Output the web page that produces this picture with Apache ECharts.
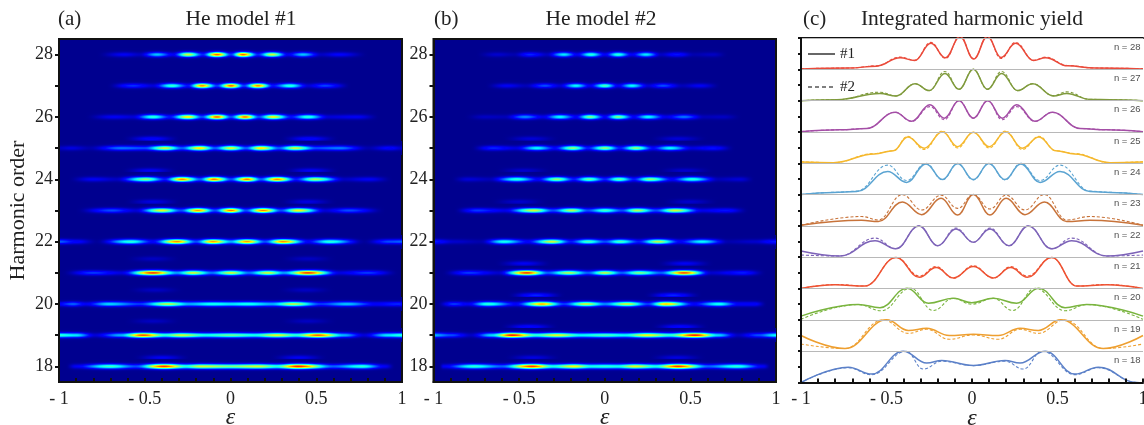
<!DOCTYPE html>
<html><head><meta charset="utf-8">
<style>html,body{margin:0;padding:0;background:#fff}#c{width:1144px;height:425px}</style>
<script src="https://cdn.jsdelivr.net/npm/echarts@6/dist/echarts.min.js"></script>
</head><body><div id="c"></div>
<script>
// ---------- panel (a): intensity profile along each harmonic, [epsilon, intensity]
const a28=[[-.78,0],[-.62,.1],[-.53,.05],[-.43,.32],[-.335,.1],[-.247,.58],[-.16,.16],[-.078,.78],[0,.18],[.075,.78],[.16,.16],[.24,.58],[.335,.1],[.425,.32],[.53,.05],[.63,.11],[.8,0]];
const a27=[[-.72,0],[-.568,.17],[-.45,.07],[-.343,.43],[-.25,.14],[-.168,.74],[-.08,.18],[0,.78],[.08,.18],[.16,.74],[.25,.14],[.347,.42],[.45,.07],[.55,.19],[.7,0]];
const a26=[[-.85,0],[-.68,.1],[-.57,.07],[-.45,.42],[-.35,.14],[-.25,.64],[-.165,.2],[-.08,.78],[0,.2],[.085,.76],[.165,.2],[.25,.62],[.35,.14],[.45,.42],[.57,.07],[.74,.1],[.87,0]];
const a25=[[-1,.05],[-.93,.08],[-.82,.03],[-.64,.24],[-.5,.2],[-.38,.58],[-.28,.22],[-.18,.66],[-.09,.22],[0,.6],[.09,.22],[.18,.66],[.28,.22],[.376,.58],[.5,.2],[.64,.25],[.8,.03],[.93,.12],[1,.06]];
const a24=[[-.95,0],[-.8,.1],[-.66,.05],[-.49,.52],[-.38,.15],[-.28,.74],[-.175,.22],[-.095,.76],[0,.2],[.095,.76],[.175,.22],[.27,.74],[.38,.15],[.49,.55],[.66,.05],[.81,.1],[.95,0]];
const a23=[[-.9,0],[-.69,.2],[-.55,.07],[-.4,.6],[-.29,.2],[-.19,.72],[-.09,.2],[0,.76],[.09,.2],[.19,.75],[.295,.2],[.395,.62],[.55,.07],[.69,.2],[.9,0]];
const a22=[[-1,.22],[-.9,.12],[-.78,.01],[-.58,.42],[-.45,.12],[-.31,.74],[-.2,.2],[-.1,.72],[0,.3],[.095,.72],[.2,.2],[.307,.74],[.45,.12],[.58,.42],[.78,.01],[.93,.2],[1,.22]];
const a21=[[-.98,0],[-.8,.18],[-.63,.08],[-.45,.82],[-.31,.28],[-.22,.58],[-.11,.24],[0,.58],[.11,.24],[.22,.58],[.31,.28],[.45,.82],[.63,.08],[.8,.18],[.98,0]];
const a20=[[-1,.12],[-.92,.22],[-.84,.1],[-.71,.34],[-.53,.18],[-.365,.56],[-.24,.3],[-.1,.4],[0,.36],[.1,.4],[.24,.3],[.365,.56],[.53,.18],[.68,.32],[.84,.12],[.98,.16],[1,.14]];
const a19=[[-1,.42],[-.9,.36],[-.79,.07],[-.64,.3],[-.51,.8],[-.38,.42],[-.29,.58],[-.14,.4],[0,.48],[.14,.4],[.27,.6],[.38,.42],[.51,.78],[.66,.3],[.78,.07],[.92,.36],[1,.42]];
const a18=[[-.96,0],[-.9,.1],[-.7,.44],[-.55,.2],[-.39,.82],[-.26,.42],[-.17,.58],[0,.5],[.16,.58],[.27,.42],[.395,.84],[.6,.22],[.765,.42],[.9,.1],[.96,0]];
const sidebandsA=[[25.3,-.46,.12],[25.3,.46,.12],[24.28,-.47,.1],[24.28,.47,.1],[23.28,-.45,.08],[23.28,.45,.08],[21.3,-.45,.16],[21.3,.45,.16],[21.45,-.45,.05],[21.45,.45,.05],[20.27,-.44,.16],[20.27,.44,.16],[20.45,-.44,.05],[20.45,.44,.05],[19.27,-.45,.18],[19.27,.45,.18],[19.45,-.45,.05],[19.45,.45,.05],[18.28,-.4,.1],[18.28,.4,.1]];
// ---------- panel (b)
const b28=[[-.75,0],[-.63,.06],[-.53,.03],[-.435,.16],[-.34,.05],[-.24,.36],[-.16,.1],[-.08,.42],[0,.1],[.076,.42],[.16,.1],[.24,.36],[.33,.05],[.42,.14],[.52,.03],[.63,.05],[.72,0]];
const b27=[[-.7,0],[-.57,.1],[-.46,.04],[-.35,.2],[-.26,.07],[-.17,.38],[-.085,.1],[0,.45],[.08,.1],[.16,.38],[.25,.07],[.34,.2],[.45,.04],[.556,.1],[.68,0]];
const b26=[[-.82,0],[-.7,.05],[-.58,.04],[-.465,.26],[-.36,.09],[-.26,.38],[-.17,.12],[-.085,.5],[0,.12],[.08,.5],[.17,.12],[.255,.38],[.36,.09],[.46,.24],[.58,.04],[.69,.05],[.8,0]];
const b25=[[-.78,0],[-.65,.16],[-.52,.08],[-.397,.38],[-.29,.13],[-.187,.52],[-.095,.15],[0,.52],[.09,.15],[.18,.52],[.28,.13],[.38,.38],[.51,.08],[.63,.14],[.76,0]];
const b24=[[-.9,0],[-.8,.07],[-.67,.04],[-.513,.42],[-.39,.12],[-.276,.52],[-.18,.15],[-.093,.48],[0,.16],[.085,.48],[.17,.15],[.264,.52],[.39,.12],[.507,.42],[.66,.04],[.79,.07],[.88,0]];
const b23=[[-.88,0],[-.746,.18],[-.58,.09],[-.414,.58],[-.3,.2],[-.194,.55],[-.1,.2],[0,.44],[.1,.2],[.19,.55],[.3,.2],[.41,.58],[.57,.09],[.71,.14],[.84,0]];
const b22=[[-1,.15],[-.88,.06],[-.72,.03],[-.59,.4],[-.45,.12],[-.31,.58],[-.2,.15],[-.095,.45],[0,.2],[.09,.45],[.2,.15],[.31,.56],[.44,.12],[.566,.38],[.72,.03],[.88,.06],[1,.15]];
const b21=[[-.95,0],[-.795,.18],[-.62,.06],[-.455,.82],[-.33,.22],[-.21,.55],[-.1,.22],[0,.56],[.1,.22],[.2,.5],[.33,.22],[.46,.8],[.62,.06],[.81,.15],[.94,0]];
const b20=[[-.98,0],[-.88,.18],[-.8,.1],[-.68,.42],[-.52,.12],[-.367,.7],[-.24,.18],[-.11,.58],[0,.26],[.128,.58],[.25,.18],[.358,.68],[.52,.12],[.67,.4],[.78,.12],[.87,.12],[.95,0]];
const b19=[[-1,.3],[-.9,.2],[-.78,.05],[-.66,.34],[-.54,.85],[-.4,.42],[-.28,.6],[-.14,.38],[0,.45],[.12,.38],[.245,.62],[.38,.42],[.527,.85],[.66,.34],[.78,.05],[.9,.2],[1,.38]];
const b18=[[-.97,0],[-.94,.1],[-.766,.42],[-.6,.22],[-.426,.82],[-.3,.4],[-.18,.62],[-.08,.4],[0,.42],[.08,.4],[.177,.6],[.3,.4],[.43,.82],[.6,.22],[.77,.42],[.925,.1],[.97,0]];
const sidebandsB=[[25.3,-.43,.07],[25.3,.43,.07],[24.28,-.47,.06],[24.28,.47,.06],[23.28,-.5,.06],[23.28,.5,.06],[21.3,-.47,.1],[21.3,.47,.1],[20.28,-.4,.16],[20.28,.4,.16],[19.27,-.44,.13],[19.27,.44,.13],[18.28,-.42,.08],[18.28,.42,.08]];
const orders=[28,27,26,25,24,23,22,21,20,19,18];
const profilesA=[a28,a27,a26,a25,a24,a23,a22,a21,a20,a19,a18];
const profilesB=[b28,b27,b26,b25,b24,b23,b22,b21,b20,b19,b18];
// ---------- panel (c): yield extrema per harmonic, in units of the baseline spacing
const n28_eps=[-1,-.72,-.56,-.42,-.335,-.24,-.155,-.07,.01,.09,.17,.255,.36,.43,.56,.72,1];
const n28_m1=[.01,.04,.1,.37,.28,.83,.37,1.05,.33,1.05,.38,.83,.28,.37,.11,.04,.01];
const n28_m2=[.02,.04,.11,.39,.29,.86,.35,1.05,.34,1.05,.35,.86,.29,.39,.12,.04,.02];
const n27_eps=[-1,-.79,-.538,-.444,-.333,-.25,-.158,-.076,.008,.09,.173,.267,.355,.476,.554,.69,.807,1];
const n27_m1=[0,.03,.23,.15,.54,.32,.87,.36,1,.36,.87,.32,.54,.15,.23,.04,.03,0];
const n27_m2=[0,.03,.27,.15,.54,.32,.93,.36,1,.36,.93,.32,.54,.16,.28,.04,.03,0];
const n26_eps=[-1,-.772,-.616,-.45,-.353,-.246,-.162,-.076,.008,.092,.177,.261,.368,.47,.632,.788,1];
const n26_m1=[.01,.07,.11,.63,.34,.87,.44,1,.44,1,.44,.87,.34,.63,.11,.07,.01];
const n26_m2=[.01,.07,.11,.63,.34,.81,.39,1,.44,1,.39,.81,.34,.63,.11,.07,.01];
const n25_eps=[-1,-.81,-.57,-.46,-.376,-.279,-.173,-.084,.008,.101,.197,.294,.392,.49,.6,.807,1];
const n25_m1=[.04,.02,.3,.4,.84,.48,1.01,.53,.99,.53,1.01,.48,.84,.4,.3,.02,.04];
const n25_m2=[.05,.02,.31,.4,.86,.44,1.03,.49,.99,.49,1.03,.44,.86,.4,.31,.02,.05];
const n24_eps=[-1,-.811,-.674,-.493,-.382,-.269,-.173,-.084,.008,.099,.193,.285,.398,.515,.69,.807,1];
const n24_m1=[0,.07,.1,.74,.39,.98,.48,.99,.48,.99,.48,.98,.39,.74,.1,.07,0];
const n24_m2=[0,.07,.11,.94,.45,1,.47,.99,.47,.99,.47,1,.45,.94,.11,.07,0];
const n23_eps=[-1,-.645,-.548,-.407,-.294,-.181,-.084,.008,.105,.199,.31,.423,.554,.69,1];
const n23_m1=[.02,.18,.14,.76,.36,.88,.35,1,.35,.88,.36,.76,.14,.18,.02];
const n23_m2=[.02,.3,.19,1,.51,.98,.56,1,.54,.98,.51,1,.19,.3,.02];
const n22_eps=[-1,-.772,-.567,-.446,-.31,-.2,-.094,.008,.105,.216,.329,.466,.583,.788,1];
const n22_m1=[.2,.04,.53,.27,1,.37,.9,.48,.9,.37,1,.27,.53,.04,.2];
const n22_m2=[.07,.04,.61,.27,1,.37,.93,.48,.93,.37,1,.27,.61,.04,.07];
const n21_eps=[-1,-.8,-.626,-.444,-.308,-.21,-.109,.008,.125,.226,.324,.466,.612,.788,1];
const n21_m1=[0,.12,.08,.99,.36,.67,.34,.7,.34,.67,.36,.99,.08,.12,0];
const n21_m2=[0,.13,.08,.99,.4,.7,.33,.73,.33,.7,.4,.99,.08,.13,0];
const n20_eps=[-1,-.665,-.538,-.38,-.255,-.109,-.002,.125,.261,.39,.544,.67,1];
const n20_m1=[.12,.49,.39,1.01,.53,.69,.55,.69,.53,1.01,.39,.49,.12];
const n20_eps2=[-1,-.665,-.53,-.36,-.226,-.109,-.002,.125,.238,.37,.544,.67,1];
const n20_m2=[.02,.49,.29,1.01,.3,.69,.5,.69,.3,1.01,.29,.49,.02];
const n19_eps=[-1,-.743,-.499,-.372,-.265,-.133,.008,.154,.281,.388,.519,.768,1];
const n19_m1=[.5,.085,1,.66,.73,.5,.54,.5,.73,.66,1,.085,.5];
const n19_eps2=[-1,-.743,-.52,-.372,-.265,-.133,.008,.154,.281,.388,.54,.768,1];
const n19_m2=[.23,.085,1,.57,.7,.38,.52,.38,.7,.57,1,.085,.23];
const n18_eps=[-1,-.723,-.587,-.402,-.265,-.177,.008,.193,.281,.427,.602,.739,.963,1];
const n18_m1=[0,.49,.27,1,.62,.7,.54,.7,.62,1,.27,.49,0,-.04];
const n18_eps2=[-1,-.723,-.587,-.385,-.285,-.177,.008,.193,.3,.41,.602,.739,.963,1];
const n18_m2=[0,.47,.25,1,.43,.68,.54,.68,.43,1,.25,.47,0,-.04];
const curves=[
 [18,n18_eps,n18_m1,n18_eps2,n18_m2,'#5b80c8'],[19,n19_eps,n19_m1,n19_eps2,n19_m2,'#ee9f30'],
 [20,n20_eps,n20_m1,n20_eps2,n20_m2,'#79b43e'],[21,n21_eps,n21_m1,n21_eps,n21_m2,'#ee5232'],
 [22,n22_eps,n22_m1,n22_eps,n22_m2,'#7d63b8'],[23,n23_eps,n23_m1,n23_eps,n23_m2,'#c8733a'],
 [24,n24_eps,n24_m1,n24_eps,n24_m2,'#5ba4d2'],[25,n25_eps,n25_m1,n25_eps,n25_m2,'#f5b82e'],
 [26,n26_eps,n26_m1,n26_eps,n26_m2,'#a44ea6'],[27,n27_eps,n27_m1,n27_eps,n27_m2,'#7f9a3c'],
 [28,n28_eps,n28_m1,n28_eps,n28_m2,'#ea4a3a']];
const xTickLabels=[-1,-.5,0,.5,1];
const yTickLabels=[18,20,22,24,26,28];

const SERIF='Liberation Serif';
function jet(v){
  v=Math.max(0,Math.min(1,v));
  const c=(a)=>Math.max(0,Math.min(1,1.5-Math.abs(4*v-a)));
  const b=v<.11?.5625+4*v:c(1);
  return 'rgb('+Math.round(255*c(3))+','+Math.round(255*c(2))+','+Math.round(255*b)+')';
}
function rowItems(list){
  const out=[];
  list.forEach(([ord,prof])=>{
    for(let i=0;i<prof.length-1;i++) out.push([prof[i][0],ord,prof[i][1],prof[i+1][0],prof[i+1][1]]);
  });
  return out;
}
function sideRows(list){
  return list.map(([o,e,v])=>[o,[[e-.17,0],[e,v],[e+.17,0]]]);
}
function heatSeries(profiles,sides,idx){
  const rows=sideRows(sides).concat(orders.map((o,i)=>[o,profiles[i]]));
  return {type:'custom',xAxisIndex:idx,yAxisIndex:idx,silent:true,clip:true,animation:false,
    data:rowItems(rows),encode:{x:0,y:1},
    renderItem(params,api){
      const e0=api.value(0),o=api.value(1),v0=api.value(2),e1=api.value(3),v1=api.value(4);
      const p0=api.coord([e0,o]),p1=api.coord([e1,o]);
      const x0=Math.round(p0[0]),x1=Math.round(p1[0]),cy=p0[1];
      const children=[],sigma=1.7;
      for(let p=Math.round(cy)-7;p<=Math.round(cy)+6;p++){
        const d=p+.5-cy,g=Math.exp(-d*d/(2*sigma*sigma));
        const stops=[];
        for(let k=0;k<=10;k++){
          const t=k/10,s=t*t*(3-2*t);
          stops.push({offset:t,color:jet((v0+(v1-v0)*s)*g)});
        }
        children.push({type:'rect',shape:{x:x0,y:p,width:x1-x0,height:1},
          style:{fill:{type:'linear',x:0,y:0,x2:1,y2:0,colorStops:stops}}});
      }
      return {type:'group',children};
    }};
}
const axisLine={show:true,onZero:false,lineStyle:{color:'#111',width:2}};
const xLabel={show:true,fontFamily:SERIF,fontSize:18,color:'#222',margin:8,hideOverlap:false,
  formatter:v=>{const r=Math.round(v*10)/10;if(xTickLabels.indexOf(r)<0)return '';return r<0?'- '+Math.abs(r):String(r);}};
function xAxis(g){
  return {type:'value',gridIndex:g,min:-1,max:1,interval:.1,z:5,axisLine,
    axisTick:{show:true,inside:true,length:4,lineStyle:{color:'#111',width:2}},
    axisLabel:xLabel,splitLine:{show:false},
    name:'ε',nameLocation:'middle',nameGap:24,nameMoveOverlap:false,
    nameTextStyle:{fontFamily:SERIF,fontStyle:'italic',fontSize:24,color:'#222'}};
}
function yAxis(g,withName){
  const ticks=orders.slice();
  return {type:'value',gridIndex:g,min:17.5,max:28.5,z:5,axisLine,
    axisTick:{show:true,length:4,customValues:ticks,lineStyle:{color:'#111',width:2}},
    axisLabel:{show:true,customValues:yTickLabels,fontFamily:SERIF,fontSize:18,color:'#222',margin:6},
    splitLine:{show:false},
    name:withName?'Harmonic order':'',nameLocation:'middle',nameGap:30,
    nameTextStyle:{fontFamily:SERIF,fontSize:22,color:'#222'}};
}
const gridBase={show:true,borderColor:'#111',borderWidth:2,backgroundColor:'rgb(0,0,143)',outerBoundsMode:'none'};
const lineSeries=[];
curves.forEach(([n,e1,m1,e2,m2,col])=>{
  const base=n-18;
  lineSeries.push({type:'line',xAxisIndex:2,yAxisIndex:2,showSymbol:false,silent:true,animation:false,clip:true,
    smooth:.42,smoothMonotone:'x',z:3,data:e2.map((e,i)=>[e,base+m2[i]]),lineStyle:{color:col,width:1.1,type:[3,2]}});
  lineSeries.push({type:'line',xAxisIndex:2,yAxisIndex:2,showSymbol:false,silent:true,animation:false,clip:true,
    smooth:.42,smoothMonotone:'x',z:3,data:e1.map((e,i)=>[e,base+m1[i]]),lineStyle:{color:col,width:1.5}});
});
const nLabels=curves.map(c=>[.83,c[0]-18+.71,'n = '+c[0]]);
lineSeries.push({type:'scatter',xAxisIndex:2,yAxisIndex:2,symbolSize:0,silent:true,animation:false,data:nLabels,
  label:{show:true,position:'right',distance:0,fontFamily:'Liberation Sans',fontSize:9.5,color:'#222',formatter:p=>p.value[2]}});
const T=(text,x,y,size,align)=>({type:'text',silent:true,style:{x,y,text,fontFamily:SERIF,fontSize:size,fill:'#222',textAlign:align||'left',textVerticalAlign:'middle'}});
const chart=echarts.init(document.getElementById('c'),null,{renderer:'canvas'});
chart.setOption({
  animation:false,backgroundColor:'#fff',
  grid:[
    Object.assign({left:59,top:39,width:343,height:343},gridBase),
    Object.assign({left:433.5,top:39,width:342.5,height:343},gridBase),
    {left:801,top:38,width:342,height:344.5,show:false,outerBoundsMode:'none'}
  ],
  xAxis:[xAxis(0),xAxis(1),xAxis(2),
    {type:'value',gridIndex:2,position:'top',min:-1,max:1,axisLine,axisTick:{show:false},axisLabel:{show:false},splitLine:{show:false}}],
  yAxis:[yAxis(0,true),yAxis(1,false),
    {type:'value',gridIndex:2,min:0,max:11,interval:1,z:5,axisLine,
     axisTick:{show:true,length:3,lineStyle:{color:'#111',width:2}},
     minorTick:{show:true,splitNumber:2,length:3,lineStyle:{color:'#111',width:2}},
     axisLabel:{show:false},splitLine:{show:true,lineStyle:{color:'#b8b8b8',width:1}}}],
  series:[heatSeries(profilesA,sidebandsA,0),heatSeries(profilesB,sidebandsB,1)].concat(lineSeries),
  graphic:[
    T('(a)',58,19,21),T('He model #1',241,19,21.5,'center'),
    T('(b)',434,19,21),T('He model #2',601,19,21.5,'center'),
    T('(c)',803,19,21),T('Integrated harmonic yield',972,19,21.5,'center'),
    {type:'line',silent:true,shape:{x1:808,y1:54,x2:835,y2:54},style:{stroke:'#000',lineWidth:1.2}},
    {type:'line',silent:true,shape:{x1:808,y1:87,x2:835,y2:87},style:{stroke:'#000',lineWidth:1.2,lineDash:[4,3]}},
    T('#1',840,54,15),T('#2',840,87,15)
  ]
});
</script></body></html>
